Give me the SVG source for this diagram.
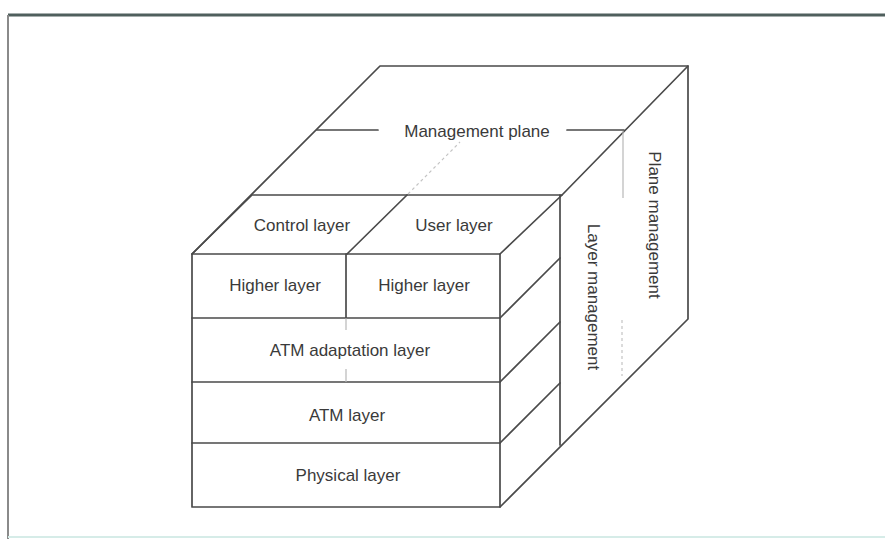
<svg xmlns="http://www.w3.org/2000/svg" width="885" height="539" viewBox="0 0 885 539">
  <style>
    .edge { fill: none; stroke: #4a4a4a; stroke-width: 1.7; stroke-linecap: round; stroke-linejoin: round; }
    .faint { fill: none; stroke: #b8b8b8; stroke-width: 1.2; }
    .hidden { fill: none; stroke: #c4c4c4; stroke-width: 1.2; stroke-dasharray: 3 3; }
    .lbl { font-family: "Liberation Sans", Arial, sans-serif; font-size: 17px; fill: #3a3a3a; text-anchor: middle; }
  </style>
  <rect width="885" height="539" fill="#ffffff"/>

  <!-- page frame -->
  <g id="frame">
    <line x1="8" y1="15" x2="885" y2="15" stroke="#4f5f5d" stroke-width="3"/>
    <line x1="8" y1="15" x2="8" y2="539" stroke="#8a8a8a" stroke-width="2"/>
    <line x1="8" y1="537" x2="885" y2="537" stroke="#d6ece8" stroke-width="2"/>
  </g>

  <!-- cube outline and face divisions -->
  <g id="cube-edges">
    <!-- outer silhouette -->
    <polyline class="edge" points="192,254 380,66 688,66 688,319 500,507"/>
    <!-- top of the control/user slab -->
    <polyline class="edge" points="192,254 252,195 562,195 500,254"/>
    <line class="edge" x1="562" y1="195" x2="688" y2="66"/>
    <line class="edge" x1="347" y1="254" x2="407" y2="195"/>
    <!-- back edge of the front block -->
    <line class="edge" x1="560" y1="195" x2="560" y2="445"/>
    <!-- layer edges on the right face -->
    <line class="edge" x1="500" y1="318" x2="560" y2="258"/>
    <line class="edge" x1="500" y1="382" x2="560" y2="322"/>
    <line class="edge" x1="500" y1="443" x2="560" y2="383"/>
    <!-- management plane division -->
    <line class="edge" x1="317" y1="130" x2="378" y2="130"/>
    <line class="edge" x1="567" y1="130" x2="624" y2="130"/>
    <line class="faint" x1="623" y1="131" x2="623" y2="198"/>
    <line class="hidden" x1="622" y1="320" x2="622" y2="376"/>
    <line class="hidden" x1="408" y1="194" x2="460" y2="142"/>
  </g>

  <!-- front face layers -->
  <g id="front-face">
    <rect class="edge" x="192" y="254" width="308" height="253"/>
    <line class="edge" x1="192" y1="318" x2="500" y2="318"/>
    <line class="edge" x1="192" y1="382" x2="500" y2="382"/>
    <line class="edge" x1="192" y1="443" x2="500" y2="443"/>
    <line class="edge" x1="346" y1="254" x2="346" y2="318"/>
    <line class="faint" x1="346" y1="318" x2="346" y2="330"/>
    <line class="faint" x1="346" y1="369" x2="346" y2="382"/>
  </g>

  <g id="management-plane">
    <text class="lbl" x="477" y="137">Management plane</text>
  </g>
  <g id="control-layer">
    <text class="lbl" x="302" y="231">Control layer</text>
  </g>
  <g id="user-layer">
    <text class="lbl" x="454" y="231">User layer</text>
  </g>
  <g id="higher-layer-control">
    <text class="lbl" x="275" y="291">Higher layer</text>
  </g>
  <g id="higher-layer-user">
    <text class="lbl" x="424" y="291">Higher layer</text>
  </g>
  <g id="atm-adaptation-layer">
    <text class="lbl" x="350" y="356">ATM adaptation layer</text>
  </g>
  <g id="atm-layer">
    <text class="lbl" x="347" y="421">ATM layer</text>
  </g>
  <g id="physical-layer">
    <text class="lbl" x="348" y="481">Physical layer</text>
  </g>
  <g id="layer-management">
    <text class="lbl" transform="translate(588,297) rotate(90)">Layer management</text>
  </g>
  <g id="plane-management">
    <text class="lbl" transform="translate(649,225) rotate(90)">Plane management</text>
  </g>
</svg>
